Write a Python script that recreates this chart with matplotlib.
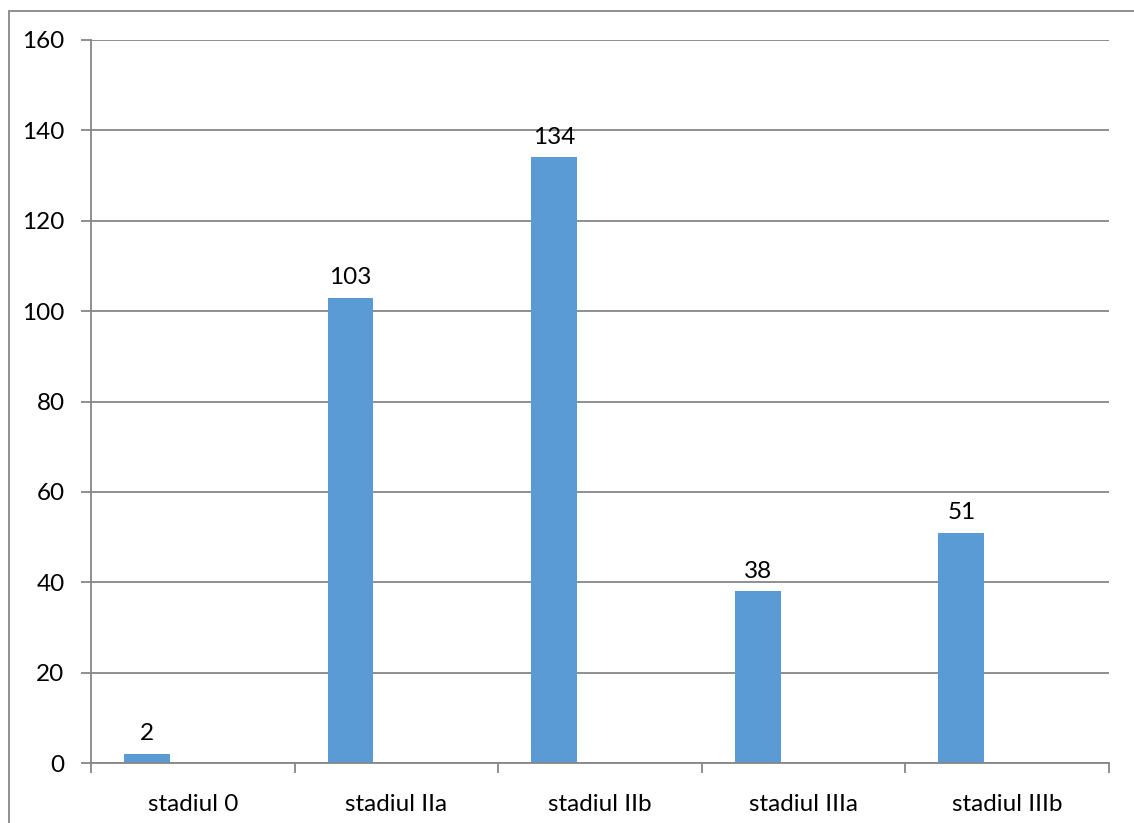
import numpy as np
import matplotlib
matplotlib.use("Agg")
from matplotlib import pyplot as plt
from matplotlib.patches import Rectangle

plt.rcParams['font.family'] = ['Lato', 'DejaVu Sans']

categories = ["stadiul 0", "stadiul IIa", "stadiul IIb", "stadiul IIIa", "stadiul IIIb"]
values = [2, 103, 134, 38, 51]
yticks = [0, 20, 40, 60, 80, 100, 120, 140, 160]

W, H = 1134, 823
fig = plt.figure(figsize=(W / 100, H / 100), dpi=100)
ax = fig.add_axes([91 / W, (H - 763) / H, (1109 - 91) / W, (763 - 40) / H])

gray = "#868686"
bar_color = "#5B9BD5"

# bars sit in the left part of each category slot (excel clustered style)
x = np.arange(len(categories))
offset = 33 / 204
bw = 46 / 204
bars = ax.bar(x + offset, values, bw, align="edge", color=bar_color, lw=0, zorder=2)
for b, v in zip(bars, values):
    ax.annotate(str(v), xy=(b.get_x() + b.get_width() / 2, v), xytext=(0, 7),
                textcoords="offset points", ha="center", va="bottom", fontsize=17.5)

ax.set_xlim(0, len(categories))
ax.set_ylim(0, 160)
ax.set_yticks(yticks)
ax.yaxis.grid(True, color=gray, lw=1.3, zorder=0)
ax.set_axisbelow(True)

ax.set_xticks(np.arange(len(categories) + 1))
ax.set_xticklabels([])
ax.set_xticks(x + 0.5, minor=True)
ax.set_xticklabels(categories, minor=True, fontsize=17.5)
ax.tick_params(axis="x", which="minor", length=0, pad=22)
ax.tick_params(axis="x", which="major", length=7, width=1.3, color=gray, direction="out")
ax.tick_params(axis="y", length=7, width=1.3, color=gray, labelsize=17.5, pad=12)

for s in ["top", "right"]:
    ax.spines[s].set_visible(False)
for s in ["left", "bottom"]:
    ax.spines[s].set_color(gray)
    ax.spines[s].set_linewidth(1.3)

# outer chart-area frame
fig.patches.append(Rectangle((9 / W, -0.1), 1.2, (H - 11) / H + 0.1,
                             transform=fig.transFigure, fill=False,
                             edgecolor=gray, lw=1.3))

fig.savefig("out.png", dpi=100)
